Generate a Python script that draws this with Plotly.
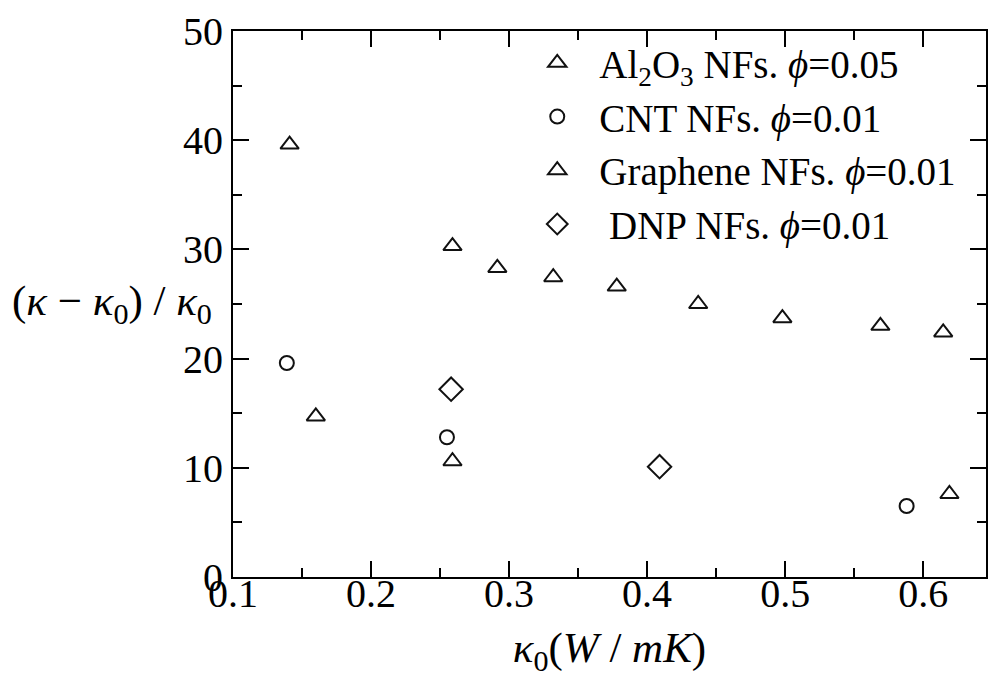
import plotly.graph_objects as go

# ---- data ----
al2o3_x = [0.160, 0.259, 0.619]
al2o3_y = [14.7, 10.6, 7.6]

cnt_x = [0.139, 0.255, 0.588]
cnt_y = [19.6, 12.8, 6.5]

graphene_x = [0.141, 0.259, 0.2915, 0.332, 0.378, 0.437, 0.498, 0.569, 0.6145]
graphene_y = [39.6, 30.3, 28.3, 27.45, 26.6, 25.0, 23.7, 23.0, 22.4]

dnp_x = [0.258, 0.409]
dnp_y = [17.2, 10.1]

names = [
    "Al<sub>2</sub>O<sub>3</sub> NFs. <i>ϕ</i>=0.05",
    "CNT NFs. <i>ϕ</i>=0.01",
    "Graphene NFs. <i>ϕ</i>=0.01",
    " DNP NFs. <i>ϕ</i>=0.01",
]

FONT = "Liberation Serif, Times New Roman, serif"
INK = "#111111"

fig = go.Figure()

def add(xs, ys, name, symbol, size):
    fig.add_trace(go.Scatter(
        x=xs, y=ys, mode="markers", name=name,
        marker=dict(symbol=symbol, size=size, color=INK,
                    line=dict(color=INK, width=2)),
    ))

add(al2o3_x, al2o3_y, names[0], "triangle-up-open", 16)
add(cnt_x, cnt_y, names[1], "circle-open", 14)
add(graphene_x, graphene_y, names[2], "triangle-up-open", 16)
add(dnp_x, dnp_y, names[3], "diamond-open", 18)

axis_common = dict(
    showline=True, linecolor="black", linewidth=2,
    mirror="allticks", ticks="inside", ticklen=16, tickwidth=2,
    tickcolor="black", showgrid=False, zeroline=False,
    tickfont=dict(family=FONT, size=40, color="black"),
)

fig.update_xaxes(
    range=[0.1, 0.6455], tickvals=[0.1, 0.2, 0.3, 0.4, 0.5, 0.6],
    ticktext=["0.1", "0.2", "0.3", "0.4", "0.5", "0.6"],
    minor=dict(dtick=0.05, tick0=0.1, ticks="inside", ticklen=9,
               tickwidth=2, tickcolor="black", showgrid=False),
    ticklabelstandoff=-20,
    title=dict(text="<i>κ</i><sub>0</sub>(<i>W</i> / <i>mK</i>)",
               font=dict(family=FONT, size=43, color="black"), standoff=17),
    **axis_common,
)
fig.update_yaxes(
    range=[0, 50], tickvals=[0, 10, 20, 30, 40, 50],
    minor=dict(dtick=5, tick0=0, ticks="inside", ticklen=9,
               tickwidth=2, tickcolor="black", showgrid=False),
    ticklabelstandoff=0,
    **axis_common,
)

fig.add_annotation(
    text="(<i>κ</i> − <i>κ</i><sub>0</sub>) / <i>κ</i><sub>0</sub>",
    xref="paper", yref="paper", x=-0.296, y=0.50, xanchor="left",
    yanchor="middle", showarrow=False,
    font=dict(family=FONT, size=43, color="black"),
)

fig.update_layout(
    width=989, height=679,
    margin=dict(l=233, r=1, t=31, b=102),
    paper_bgcolor="white", plot_bgcolor="white",
    showlegend=True,
    legend=dict(
        x=(516 - 233) / 755, y=1.0, xanchor="left", yanchor="top",
        bgcolor="rgba(0,0,0,0)", borderwidth=0,
        itemwidth=74, itemsizing="trace",
        font=dict(family=FONT, size=39, color="black"),
        tracegroupgap=0,
    ),
)

fig.write_html("out.html")
